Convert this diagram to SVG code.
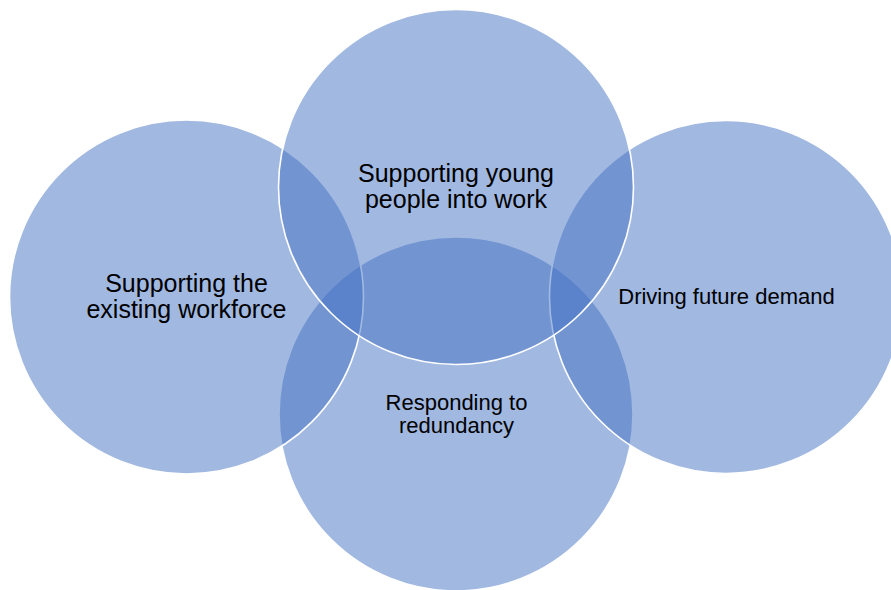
<svg xmlns="http://www.w3.org/2000/svg" width="891" height="590" viewBox="0 0 891 590">
  <style>
    .ring { fill: #4472C4; fill-opacity: 0.5; stroke: #FFFFFF; stroke-width: 1.6; }
    .lbl { font-family: "Liberation Sans", Arial, Helvetica, sans-serif; fill: #000000; text-anchor: middle; }
    .big { font-size: 25px; }
    .small { font-size: 22px; }
  </style>
  <rect width="891" height="590" fill="#FFFFFF"/>
  <!-- Venn circles: painted bottom, left, right, top so the outlines stack correctly -->
  <g id="responding-to-redundancy">
    <circle class="ring" cx="456" cy="414" r="177"/>
  </g>
  <g id="supporting-existing-workforce">
    <circle class="ring" cx="186.5" cy="297" r="177"/>
  </g>
  <g id="driving-future-demand">
    <circle class="ring" cx="726" cy="297" r="176.5"/>
  </g>
  <g id="supporting-young-people">
    <circle class="ring" cx="456" cy="187" r="177.5"/>
  </g>
  <!-- labels -->
  <g id="labels">
    <text class="lbl big" x="186.5" y="292">Supporting the</text>
    <text class="lbl big" x="186.5" y="318">existing workforce</text>
    <text class="lbl big" x="456" y="182">Supporting young</text>
    <text class="lbl big" x="456" y="208">people into work</text>
    <text class="lbl small" x="726.5" y="304">Driving future demand</text>
    <text class="lbl small" x="456.5" y="410">Responding to</text>
    <text class="lbl small" x="456.5" y="433">redundancy</text>
  </g>
</svg>
